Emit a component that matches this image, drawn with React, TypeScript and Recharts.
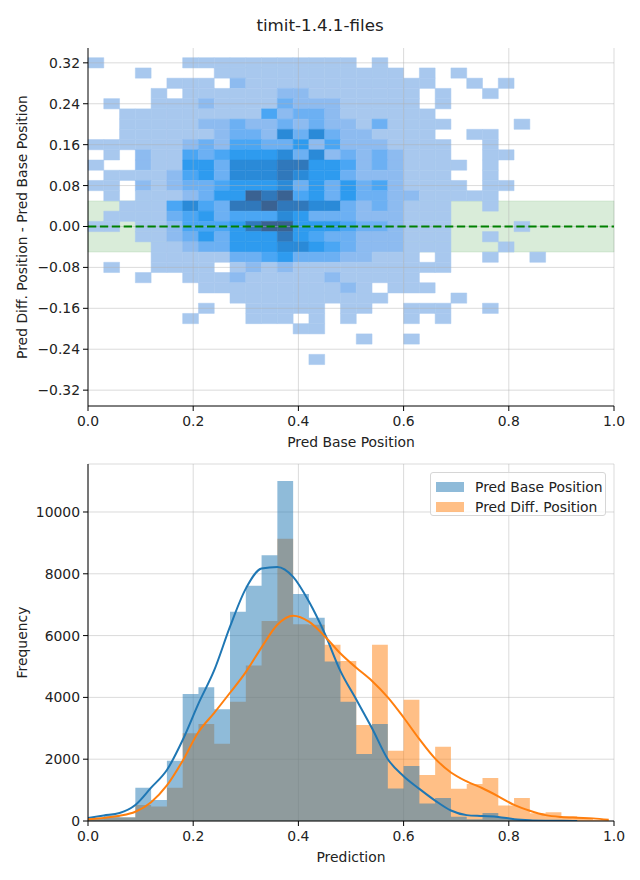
import React from 'react'
import {
  ComposedChart,
  Area,
  Line,
  XAxis,
  YAxis,
  CartesianGrid,
  ReferenceArea,
  ReferenceLine,
  Label,
} from 'recharts'

const FONT = '"DejaVu Sans", Verdana, sans-serif'
const TICK_STYLE = { fontSize: 13.9, fill: '#222', fontFamily: FONT }
const LABEL_STYLE = { fontSize: 13.9, fill: '#222', fontFamily: FONT, textAnchor: 'middle' as const }
const GRID_STROKE = '#b0b0b0'

// ---- top panel: 2D histogram (x bins 0.03 wide from 0, y bins 0.02 tall from 0.33 down)
// one string per y row, one char per x bin: '.' empty, 1..8 density level
const X_BIN = 0.03
const Y_TOP = 0.33
const Y_BIN = 0.02
const densityRows = [
  '1.....11111111111.1',
  '...1....111111111111.1.1',
  '.....111.2111111111111..1.1',
  '....1.111111221111111.1..1',
  '.1..11121111322211111.1',
  '..11111111142332111111',
  '..111112232232322131111....1',
  '..11111123326363221111..11',
  '11111123244335242221111..1',
  '.1.21143455563623232111..11',
  '1..211553666775542321111.1',
  '.1111245366676553222111..1',
  '11.212334555635353421111.11',
  '.1.11123558784535332211111',
  '..111464377877663232111..1',
  '.1111345344465333222111',
  '11.11244457885554332111....1',
  '...11235355575433222111..1',
  '....1123355566543222111...1',
  '....11111334533322111.1..1..1',
  '.1..1111.12121111111111',
  '...1..111211111211111',
  '.......11111111121.111',
  '.........1111111111....1',
  '.......1..11111.11..111..1',
  '......1...111.1.1...1.1',
  '.............11',
  '.................1..1',
  '',
  '..............1',
]

const LEVEL_COLORS = ['', '#a8c8ee', '#8dbbf0', '#6cb0f3', '#4aa6f4', '#2e9bef', '#2a8ad8', '#3078bb', '#3a6292']

const X_TICKS = [0, 0.2, 0.4, 0.6, 0.8, 1.0]
const DIFF_TICKS = [-0.32, -0.24, -0.16, -0.08, 0, 0.08, 0.16, 0.24, 0.32]
const FREQ_TICKS = [0, 2000, 4000, 6000, 8000, 10000]

// ---- bottom panel: histograms + kde
const binEdges = [
  0, 0.03, 0.06, 0.09, 0.12, 0.15, 0.18, 0.21, 0.24, 0.27, 0.3, 0.33, 0.36, 0.39, 0.42, 0.45, 0.48,
  0.51, 0.54, 0.57, 0.6, 0.63, 0.66, 0.69, 0.72, 0.75, 0.78, 0.81, 0.84, 0.87, 0.9, 0.93, 0.96, 0.99,
]
const baseCounts = [
  80, 190, 120, 1080, 680, 1950, 4110, 4330, 3620, 6770, 7610, 8600, 11000, 7350, 6580, 5160, 3860,
  2170, 3140, 1050, 1780, 570, 745, 140, 60, 260, 100, 30, 20, 10, 5, 0, 0,
]
const diffCounts = [
  60, 110, 110, 520, 470, 1080, 2840, 3140, 2500, 3860, 5030, 6470, 9130, 6370, 6350, 5700, 5180,
  3110, 5700, 2270, 3920, 1490, 2400, 1040, 1200, 1390, 500, 745, 250, 280, 150, 100, 30,
]
const baseKde = [
  100, 180, 260, 520, 1080, 1650, 2620, 3800, 4880, 6290, 7520, 8170, 8220, 7900, 7100, 6070, 4850,
  3930, 3000, 2000, 1450, 1040, 660, 340, 190, 160, 130, 60, 25, 10, 5, 3, null, null,
]
const diffKde = [
  60, 100, 170, 300, 610, 1150, 1950, 2880, 3500, 4150, 4820, 5620, 6350, 6640, 6450, 5980, 5420,
  4960, 4530, 4000, 3350, 2650, 2020, 1570, 1280, 1060, 800, 520, 330, 190, 130, 105, 85, 40,
]

const SERIES = [
  { name: 'Pred Base Position', color: '#1f77b4' },
  { name: 'Pred Diff. Position', color: '#ff7f0e' },
]

const cells = densityRows.flatMap((row, r) =>
  row
    .padEnd(33, '.')
    .split('')
    .map((ch, c) => ({ r, c, level: ch === '.' ? 0 : Number(ch) }))
    .filter((d) => d.level > 0),
)

const histTable = binEdges.map((x, i) => {
  const b = Math.min(i, baseCounts.length - 1)
  return {
    x,
    base: baseCounts[b],
    diff: diffCounts[b],
    baseKde: baseKde[i],
    diffKde: diffKde[i],
  }
})

const fmtDiff = (v: number) => (v < 0 ? '\u2212' : '') + Math.abs(v).toFixed(2)

export default function App() {
  return (
    <div style={{ position: 'absolute', left: 0, top: 0, width: 640, height: 880, background: '#fff', fontFamily: FONT }}>
      <div style={{ position: 'absolute', top: 15, left: 0, width: 640, textAlign: 'center', fontSize: 16.7, color: '#222' }}>
        timit-1.4.1-files
      </div>

      <div style={{ position: 'absolute', top: 0, left: 0 }}>
        <ComposedChart width={640} height={450} margin={{ top: 48, right: 26, bottom: 0, left: 0 }}>
          <XAxis
            type="number"
            dataKey="x"
            domain={[0, 1]}
            ticks={X_TICKS}
            tickFormatter={(v: number) => v.toFixed(1)}
            allowDataOverflow
            height={44}
            tick={TICK_STYLE}
            tickSize={5}
            tickMargin={5}
            axisLine={{ stroke: '#000' }}
            tickLine={{ stroke: '#000' }}
          >
            <Label value="Pred Base Position" position="insideBottom" offset={3} style={LABEL_STYLE} />
          </XAxis>
          <YAxis
            type="number"
            domain={[-0.351, 0.349]}
            ticks={DIFF_TICKS}
            tickFormatter={fmtDiff}
            allowDataOverflow
            width={88}
            tick={TICK_STYLE}
            tickSize={5}
            tickMargin={3}
            axisLine={{ stroke: '#000' }}
            tickLine={{ stroke: '#000' }}
          >
            <Label
              value="Pred Diff. Position - Pred Base Position"
              position="insideLeft"
              angle={-90}
              offset={22}
              style={LABEL_STYLE}
            />
          </YAxis>
          <ReferenceArea x1={0} x2={1} y1={-0.05} y2={0.05} fill="green" fillOpacity={0.15} stroke="green" strokeOpacity={0.1} />
          {cells.map((d) => (
            <ReferenceArea
              key={`${d.r}-${d.c}`}
              x1={d.c * X_BIN}
              x2={(d.c + 1) * X_BIN}
              y1={Y_TOP - (d.r + 1) * Y_BIN}
              y2={Y_TOP - d.r * Y_BIN}
              fill={LEVEL_COLORS[d.level]}
              fillOpacity={1}
              stroke={LEVEL_COLORS[d.level]}
              strokeWidth={0.5}
            />
          ))}
          {/* grid sits above the cells, like matplotlib's */}
          {X_TICKS.filter((t) => t > 0).map((t) => (
            <ReferenceLine key={`gx${t}`} x={t} stroke={GRID_STROKE} strokeOpacity={0.45} />
          ))}
          {DIFF_TICKS.map((t) => (
            <ReferenceLine key={`gy${t}`} y={t} stroke={GRID_STROKE} strokeOpacity={0.45} />
          ))}
          <ReferenceLine y={0} stroke="green" strokeWidth={2} strokeDasharray="8.3 3.6" />
        </ComposedChart>
      </div>

      <div style={{ position: 'absolute', top: 450, left: 0 }}>
        <ComposedChart width={640} height={430} data={histTable} margin={{ top: 14, right: 26, bottom: 15, left: 0 }}>
          <XAxis
            type="number"
            dataKey="x"
            domain={[0, 1]}
            ticks={X_TICKS}
            tickFormatter={(v: number) => v.toFixed(1)}
            allowDataOverflow
            height={44}
            tick={TICK_STYLE}
            tickSize={5}
            tickMargin={5}
            axisLine={{ stroke: '#000' }}
            tickLine={{ stroke: '#000' }}
          >
            <Label value="Prediction" position="insideBottom" offset={3} style={LABEL_STYLE} />
          </XAxis>
          <YAxis
            type="number"
            domain={[0, 11553]}
            ticks={FREQ_TICKS}
            allowDataOverflow
            width={88}
            tick={TICK_STYLE}
            tickSize={5}
            tickMargin={3}
            axisLine={{ stroke: '#000' }}
            tickLine={{ stroke: '#000' }}
          >
            <Label value="Frequency" position="insideLeft" angle={-90} offset={22} style={LABEL_STYLE} />
          </YAxis>
          <Area
            type="stepAfter"
            dataKey="diff"
            name={SERIES[1].name}
            fill={SERIES[1].color}
            fillOpacity={0.5}
            stroke="none"
            isAnimationActive={false}
          />
          <Area
            type="stepAfter"
            dataKey="base"
            name={SERIES[0].name}
            fill={SERIES[0].color}
            fillOpacity={0.5}
            stroke="none"
            isAnimationActive={false}
          />
          <CartesianGrid stroke={GRID_STROKE} strokeOpacity={0.45} />
          <Line type="monotone" dataKey="baseKde" stroke={SERIES[0].color} strokeWidth={2} dot={false} isAnimationActive={false} />
          <Line type="monotone" dataKey="diffKde" stroke={SERIES[1].color} strokeWidth={2} dot={false} isAnimationActive={false} />
        </ComposedChart>
      </div>

      {/* legend, upper right of the bottom panel */}
      <div
        style={{
          position: 'absolute',
          left: 430,
          top: 472,
          width: 176,
          height: 44,
          boxSizing: 'border-box',
          border: '1px solid #d6d6d6',
          borderRadius: 3,
          background: 'rgba(255,255,255,0.8)',
          fontSize: 13.9,
          color: '#222',
        }}
      >
        {SERIES.map((s, i) => (
          <div key={s.name} style={{ position: 'absolute', left: 5, top: 4 + i * 20, height: 20, display: 'flex', alignItems: 'center' }}>
            <span style={{ width: 28, height: 10, background: s.color, opacity: 0.5, marginRight: 11 }} />
            <span style={{ whiteSpace: 'nowrap' }}>{s.name}</span>
          </div>
        ))}
      </div>
    </div>
  )
}
